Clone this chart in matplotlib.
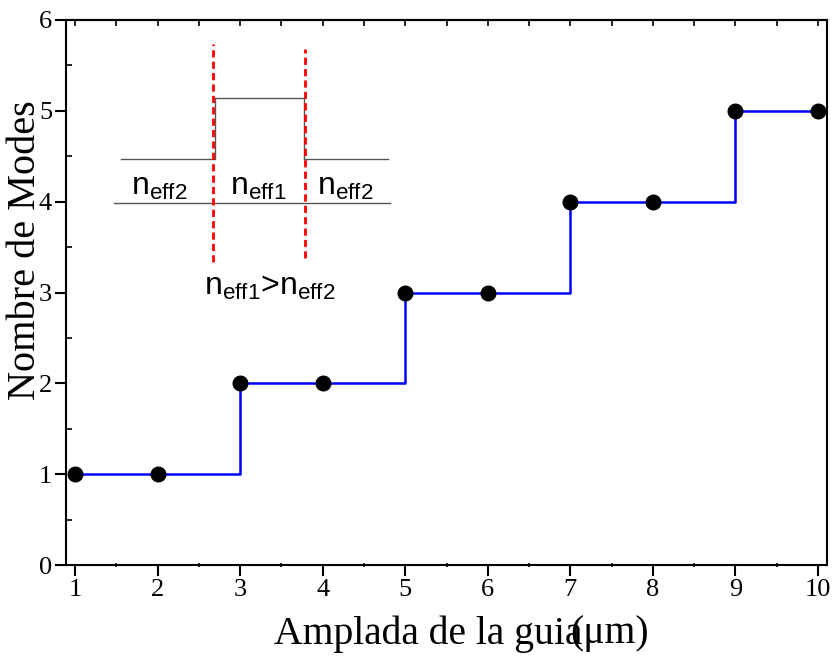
import matplotlib.pyplot as plt
from matplotlib.ticker import MultipleLocator

# guide width (um) and number of guided modes
width = [1, 2, 3, 4, 5, 6, 7, 8, 9, 10]
modes = [1, 1, 2, 2, 3, 3, 4, 4, 5, 5]

# index-profile sketch, drawn in data units
base_x = [1.47, 4.82]
base_y = 3.99
clad_left_x = [1.56, 2.70]
clad_right_x = [3.77, 4.79]
clad_y = 4.47
core_x = [2.70, 3.77]
core_y = 5.14
edge1 = (2.67, 3.34, 5.74)
edge2 = (3.79, 3.38, 5.68)

serif = 'Liberation Serif'
sans = 'Liberation Sans'

fig = plt.figure(figsize=(8.38, 6.56), dpi=100)
ax = fig.add_axes([66 / 838, 91 / 656, 761 / 838, 545 / 656])

ax.plot(width, modes, drawstyle='steps-post', color='#0000ff', lw=1.8, zorder=2)
ax.plot(width, modes, 'o', color='black', ms=10.5, zorder=3)

# step-index profile
ax.plot(base_x, [base_y, base_y], color='#555555', lw=1)
ax.plot(clad_left_x + [clad_left_x[1]], [clad_y, clad_y, core_y], color='#555555', lw=1)
ax.plot([core_x[0], core_x[1], core_x[1]], [core_y, core_y, clad_y], color='#555555', lw=1)
ax.plot([clad_right_x[0], clad_right_x[1]], [clad_y, clad_y], color='#555555', lw=1)
for x0, y0, y1 in (edge1, edge2):
    ax.plot([x0, x0], [y0, y1], color='red', ls=(0, (2.6, 1.5)), lw=2)

kw = dict(fontsize=23, family=sans, ha='center', va='baseline')
ax.text(2.02, 4.08, r'n$_{\mathregular{eff2}}$', **kw)
ax.text(3.22, 4.08, r'n$_{\mathregular{eff1}}$', **kw)
ax.text(4.27, 4.08, r'n$_{\mathregular{eff2}}$', **kw)
ax.text(3.36, 2.98, r'n$_{\mathregular{eff1}}$>n$_{\mathregular{eff2}}$', **kw)

ax.set_xlim(0.89, 10.11)
ax.set_ylim(0, 6)
ax.xaxis.set_major_locator(MultipleLocator(1))
ax.xaxis.set_minor_locator(MultipleLocator(0.5))
ax.yaxis.set_major_locator(MultipleLocator(1))
ax.yaxis.set_minor_locator(MultipleLocator(0.5))
ax.tick_params(which='major', direction='out', length=8, width=1.5,
               labelsize=19, pad=2)
ax.tick_params(axis='y', which='minor', direction='in', length=4, width=1.2)
ax.tick_params(axis='x', which='minor', direction='inout', length=3, width=1.2)
for lab in ax.get_xticklabels() + ax.get_yticklabels():
    lab.set_family(serif)
for s in ax.spines.values():
    s.set_linewidth(1.5)

# short inward ticks along the top edge
top = ax.secondary_xaxis('top')
top.xaxis.set_major_locator(MultipleLocator(0.5))
top.tick_params(direction='in', length=4, width=1.2, labeltop=False)
top.spines['top'].set_linewidth(1.5)

fig.text(274 / 838, 1 - 634 / 656, 'Amplada de la guia', family=serif,
         fontsize=28.5, ha='left', va='center')
fig.text(570 / 838, 1 - 634 / 656, '(μm)', family=serif,
         fontsize=28.5, ha='left', va='center')
fig.text(26 / 838, 1 - 250 / 656, 'Nombre de Modes', family=serif,
         fontsize=29, ha='center', va='center', rotation=90)

fig.savefig('out.png', dpi=100)
